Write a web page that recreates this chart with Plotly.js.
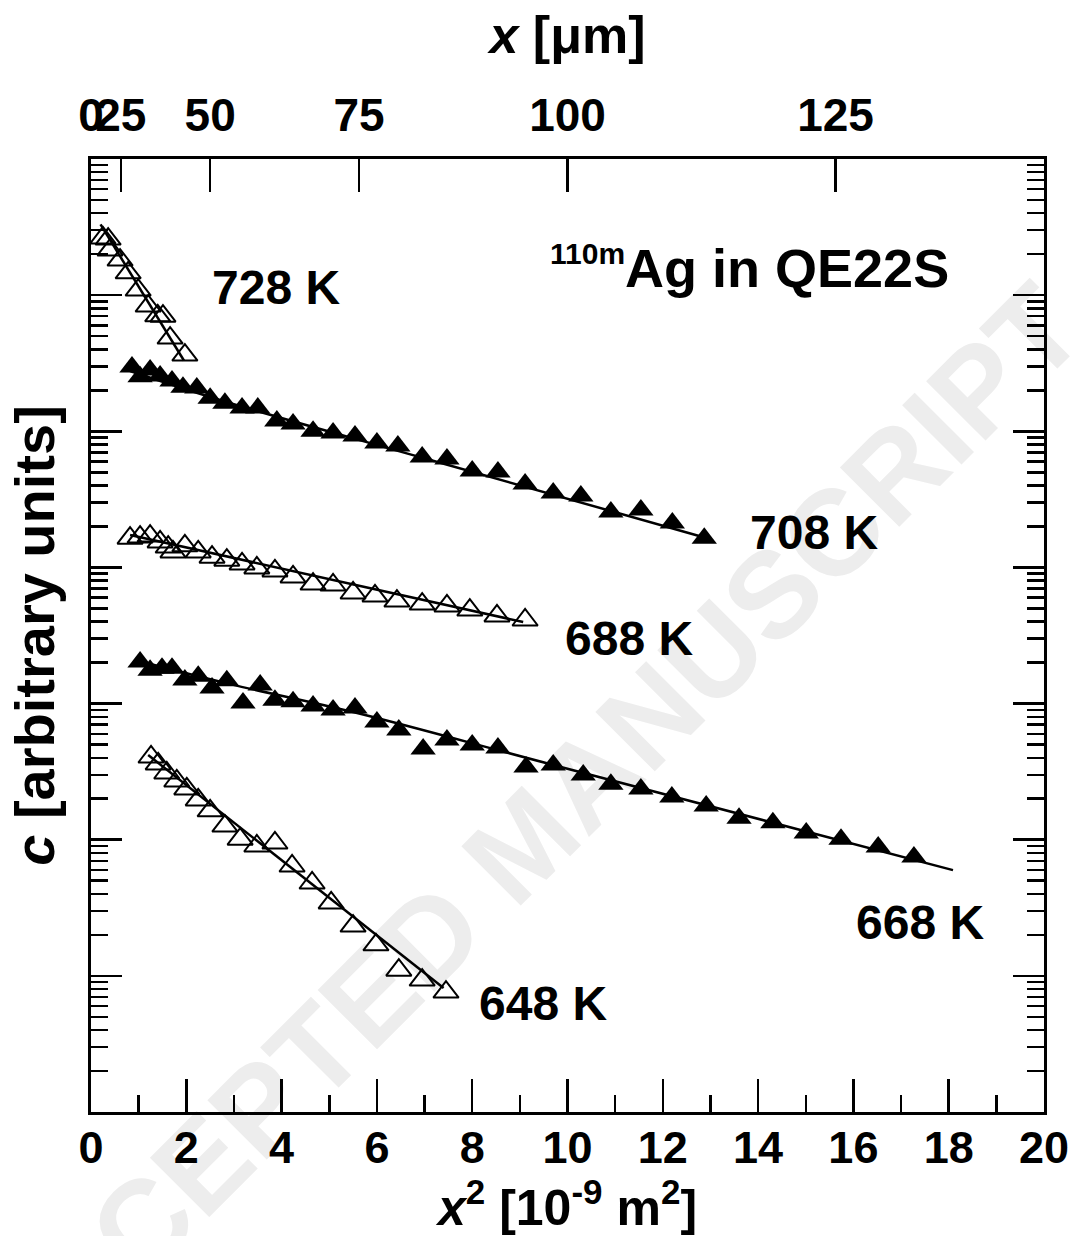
<!DOCTYPE html>
<html><head><meta charset="utf-8">
<script src="https://cdn.plot.ly/plotly-3.0.1.min.js"></script>
<style>html,body{margin:0;padding:0;background:#fff}#chart{width:1073px;height:1236px}</style>
</head><body><div id="chart"></div>
<script>
// ---- data (x² in 1e-9 m², c in arbitrary units) ----
const x728 = [0.25,0.36,0.40,0.61,0.78,0.99,1.20,1.40,1.51,1.66,1.97];
const c728 = [2.63e6,2.58e6,2.15e6,1.81e6,1.46e6,1.09e6,8.32e5,7.05e5,7.00e5,4.84e5,3.63e5];
const fitX728 = [0.2,1.95];
const fitC728 = [3.31e6,3.31e5];

const x708 = [0.86,1.03,1.24,1.45,1.70,1.93,2.22,2.50,2.81,3.17,3.50,3.90,4.24,4.66,5.08,5.54,6.00,6.44,6.95,7.47,8.00,8.54,9.11,9.70,10.28,10.91,11.54,12.20,12.87];
const c708 = [2.96e5,2.51e5,2.82e5,2.55e5,2.34e5,2.11e5,2.08e5,1.75e5,1.61e5,1.48e5,1.48e5,1.19e5,1.13e5,1.00e5,9.71e4,9.23e4,8.20e4,7.80e4,6.47e4,6.25e4,5.11e4,5.02e4,4.10e4,3.52e4,3.35e4,2.55e4,2.64e4,2.12e4,1.64e4];
const fitX708 = [0.82,2.77,6.90,12.93];
const fitC708 = [2.77e5,1.67e5,6.47e4,1.64e4];

const x688 = [0.82,1.03,1.24,1.45,1.62,1.72,1.97,2.25,2.54,2.85,3.17,3.48,3.86,4.24,4.66,5.08,5.50,5.96,6.42,6.95,7.47,7.95,8.52,9.11];
const c688 = [1.64e4,1.67e4,1.70e4,1.54e4,1.41e4,1.30e4,1.44e4,1.30e4,1.19e4,1.13e4,1.06e4,9.91e3,9.42e3,8.51e3,7.55e3,7.43e3,6.49e3,6.17e3,5.66e3,5.38e3,5.21e3,4.86e3,4.40e3,4.11e3];
const fitX688 = [0.82,9.07];
const fitC688 = [1.73e4,3.97e3];

const x668 = [1.03,1.24,1.49,1.70,1.97,2.25,2.54,2.85,3.19,3.55,3.86,4.24,4.66,5.08,5.54,6.00,6.46,6.97,7.47,8.00,8.54,9.13,9.70,10.33,10.91,11.54,12.19,12.91,13.60,14.31,15.01,15.74,16.52,17.27];
const c668 = [2.02e3,1.76e3,1.82e3,1.82e3,1.49e3,1.59e3,1.30e3,1.47e3,1.01e3,1.37e3,1.06e3,1.03e3,959,897,927,733,640,463,540,497,472,342,354,299,256,236,206,177,144,133,112,101,88.3,74.6];
const fitX668 = [0.92,2.92,5.50,9.70,18.09];
const fitC668 = [2.09e3,1.39e3,867,354,59.8];

const x648 = [1.26,1.41,1.59,1.80,2.01,2.25,2.50,2.81,3.13,3.48,3.86,4.22,4.64,5.04,5.50,5.98,6.46,6.95,7.45];
const c648 = [405,360,309,270,236,196,163,126,101,89.9,94.6,64.1,48.1,34.3,23.2,16.9,11.0,9.31,7.60];
const fitX648 = [1.2,7.4];
const fitC648 = [419,8.15];

// top axis: x in µm, placed at x² (1 µm² = 1e-3 × 1e-9 m²)
const topMicrons = [0,25,50,75,100,125];
const topTickLabels = ['0','25','50','75','100','125'];

const seriesLabels = ['728 K','708 K','688 K','668 K','648 K'];

const FONT = 'Liberation Sans, Arial, Helvetica, sans-serif';

const lineStyle = {color:'#000', width:2.5};
const openMk = {symbol:'triangle-up-open', size:22, color:'#000', line:{color:'#000', width:2}};
const fillMk = {symbol:'triangle-up', size:22, color:'#000', line:{color:'#000', width:0}};

const traces = [
  {x:fitX728, y:fitC728, mode:'lines', line:lineStyle, name:'fit 728 K', xaxis:'x2', yaxis:'y'},
  {x:x728, y:c728, mode:'markers', marker:openMk, name:seriesLabels[0]},
  {x:fitX708, y:fitC708, mode:'lines', line:Object.assign({shape:'spline'},lineStyle), name:'fit 708 K'},
  {x:x708, y:c708, mode:'markers', marker:fillMk, name:seriesLabels[1]},
  {x:fitX688, y:fitC688, mode:'lines', line:lineStyle, name:'fit 688 K'},
  {x:x688, y:c688, mode:'markers', marker:openMk, name:seriesLabels[2]},
  {x:fitX668, y:fitC668, mode:'lines', line:Object.assign({shape:'spline'},lineStyle), name:'fit 668 K'},
  {x:x668, y:c668, mode:'markers', marker:fillMk, name:seriesLabels[3]},
  {x:fitX648, y:fitC648, mode:'lines', line:lineStyle, name:'fit 648 K'},
  {x:x648, y:c648, mode:'markers', marker:openMk, name:seriesLabels[4]}
];

function ann(text, x, y, size){
  return {text:text, x:x, y:y, xref:'paper', yref:'paper', showarrow:false,
          xanchor:'center', yanchor:'middle', font:{size:size||48, family:FONT, color:'#000', weight:'bold'}};
}

const layout = {
  width:1073, height:1236,
  margin:{l:91, r:29, t:159, b:124, pad:0},
  paper_bgcolor:'#fff', plot_bgcolor:'#fff',
  font:{family:FONT, color:'#000', size:46, weight:'bold'},
  showlegend:false,
  xaxis:{
    range:[0,20], tick0:0, dtick:2, ticks:'inside', ticklen:33, tickwidth:2.5, tickcolor:'#000',
    showline:true, linewidth:3, linecolor:'#000', mirror:true, showgrid:false, zeroline:false,
    minor:{dtick:1, ticks:'inside', ticklen:17, tickwidth:2.5, tickcolor:'#000', showgrid:false},
    tickangle:0, ticklabelstandoff:-6,
    tickfont:{size:45, family:FONT, weight:'bold'},
    title:{text:'<i>x</i><sup>2</sup> [10<sup>-9</sup> m<sup>2</sup>]', font:{size:50, family:FONT, weight:'bold'}, standoff:18}
  },
  xaxis2:{
    overlaying:'x', side:'top', anchor:'y', range:[0,20],
    tickmode:'array', tickvals:topMicrons.map(u => u*u/1000), ticktext:topTickLabels,
    ticks:'inside', ticklen:33, tickwidth:2.5, tickcolor:'#000', tickangle:0,
    showline:false, showgrid:false, zeroline:false, ticklabelstandoff:18,
    tickfont:{size:46, family:FONT, weight:'bold'},
    title:{text:'<i>x</i> [μm]', font:{size:52, family:FONT, weight:'bold'}, standoff:18}
  },
  yaxis:{
    type:'log', range:[0,7], dtick:1, ticks:'inside', ticklen:31, tickwidth:2.5, tickcolor:'#000',
    showticklabels:false, showline:true, linewidth:3, linecolor:'#000', mirror:'ticks',
    showgrid:false, zeroline:false,
    minor:{dtick:'D1', ticks:'inside', ticklen:17, tickwidth:2.5, tickcolor:'#000', showgrid:false},
    title:{text:'<i>c</i> [arbitrary units]', font:{size:56, family:FONT, weight:'bold'}, standoff:16}
  },
  shapes:[{
    type:'line', xref:'paper', yref:'paper', x0:0.145, y0:-0.009, x1:0.745, y1:0.591,
    layer:'below', line:{width:0, color:'rgba(0,0,0,0)'},
    label:{text:'ACCEPTED MANUSCRIPT', textangle:'auto', textposition:'middle', yanchor:'middle',
           font:{size:122, family:FONT, color:'#ededed', weight:'bold'}}
  }],
  annotations:[
    ann(seriesLabels[0], 0.194, 0.865),
    ann(seriesLabels[1], 0.759, 0.608),
    ann(seriesLabels[2], 0.565, 0.497),
    ann(seriesLabels[3], 0.870, 0.199),
    ann(seriesLabels[4], 0.474, 0.114),
    ann('<sup><span style="font-size:30px">110m</span></sup>Ag in QE22S', 0.691, 0.886, 54)
  ]
};

Plotly.newPlot('chart', traces, layout, {staticPlot:true, displayModeBar:false});
</script>
</body></html>
